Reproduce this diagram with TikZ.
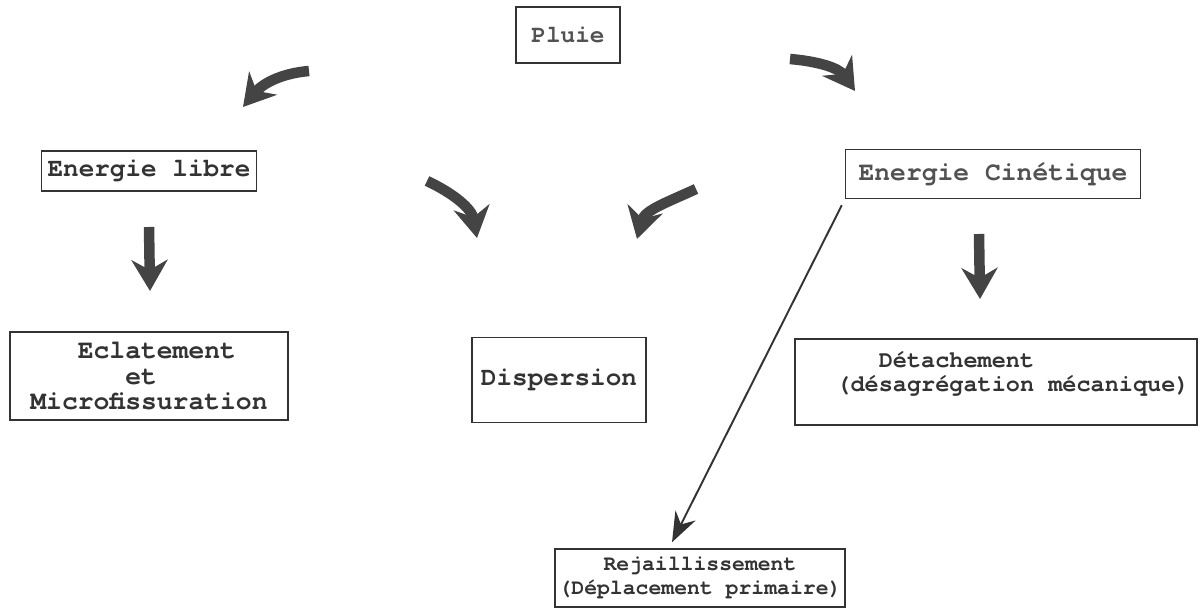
\documentclass[tikz,border=0pt]{standalone}
\usepackage{fontspec}
\setmonofont{texgyrecursor}[Extension=.otf, UprightFont=*-regular, BoldFont=*-bold]
\usepackage{xcolor}
\usetikzlibrary{arrows.meta, positioning, calc}

\definecolor{ink}{HTML}{333333}
\definecolor{arrowgray}{HTML}{444444}

\tikzset{
  box/.style={draw=ink, line width=0.85pt, text=ink, align=center,
    font=\fontsize{14.8}{13.4}\selectfont\ttfamily\bfseries, inner sep=2pt},
  plainbox/.style={box, text=ink!85},
  bigarrow/.style={draw=arrowgray, line width=0.21cm,
    -{Stealth[length=0.62cm, width=0.72cm, inset=0.2cm]}},
  thinarrow/.style={draw=ink, line width=1.1pt,
    -{Stealth[length=0.6cm, width=0.45cm, inset=0.2cm]}}
}

\begin{document}
\begin{tikzpicture}[x=0.02cm, y=0.02cm]
  \useasboundingbox (0,0) rectangle (1203,614);

  % Boxes
  \node[plainbox, font=\fontsize{13.9}{13}\selectfont\ttfamily\bfseries,
    minimum width=2.08cm, minimum height=1.12cm] (pluie) at (568,579) {Pluie};
  \node[box, minimum width=4.3cm, minimum height=0.8cm] (libre) at (149,443) {Energie libre};
  \node[plainbox, font=\fontsize{15}{13.4}\selectfont\ttfamily\bfseries,
    minimum width=5.9cm, minimum height=0.98cm] (cin) at (993,440) {Energie Cinétique};
  \node[box, align=left, font=\fontsize{15}{14.6}\selectfont\ttfamily\bfseries,
    minimum width=5.56cm, minimum height=1.76cm] (eclat) at (149,238)
    {\hspace*{1.8em}Eclatement\\\hspace*{3.6em}et\\Microfissuration};
  \node[box, minimum width=3.48cm, minimum height=1.7cm] (disp) at (559,234) {Dispersion};
  \node[box, align=left, font=\fontsize{13.4}{13.8}\selectfont\ttfamily\bfseries,
    minimum width=8.04cm, minimum height=1.72cm, text depth=0.41cm] (detach) at (996,232)
    {\hspace*{3.24em}Détachement\\\hspace*{1.44em}(désagrégation mécanique)};
  \node[box, font=\fontsize{12.2}{13.4}\selectfont\ttfamily\bfseries,
    minimum width=5.7cm, minimum height=1.16cm] (rejail) at (700,36)
    {Rejaillissement\\(Déplacement primaire)};

  % Arrow ends
  \coordinate (a1s) at (309,543);
  \coordinate (a1e) at (243,507);
  \coordinate (a2s) at (790,555);
  \coordinate (a2e) at (855,523);
  \coordinate (a3s) at (149,387);
  \coordinate (a3e) at (150,323);
  \coordinate (a4s) at (427,433);
  \coordinate (a4e) at (477,376);
  \coordinate (a5s) at (696,425);
  \coordinate (a5e) at (637,375);
  \coordinate (a6s) at (979,380);
  \coordinate (a6e) at (980,315);

  % Thick arrows
  \draw[bigarrow] (a1s) to[out=185, in=50] (a1e);
  \draw[bigarrow] (a2s) to[out=-5, in=125] (a2e);
  \draw[bigarrow] (a3s) -- (a3e);
  \draw[bigarrow] (a4s) to[out=-25, in=100] (a4e);
  \draw[bigarrow] (a5s) to[out=205, in=75] (a5e);
  \draw[bigarrow] (a6s) -- (a6e);

  % Thin arrow
  \draw[thinarrow] ([xshift=-0.06cm, yshift=-0.12cm]cin.south west) -- ([xshift=-0.56cm, yshift=0.12cm]rejail.north);
\end{tikzpicture}
\end{document}
